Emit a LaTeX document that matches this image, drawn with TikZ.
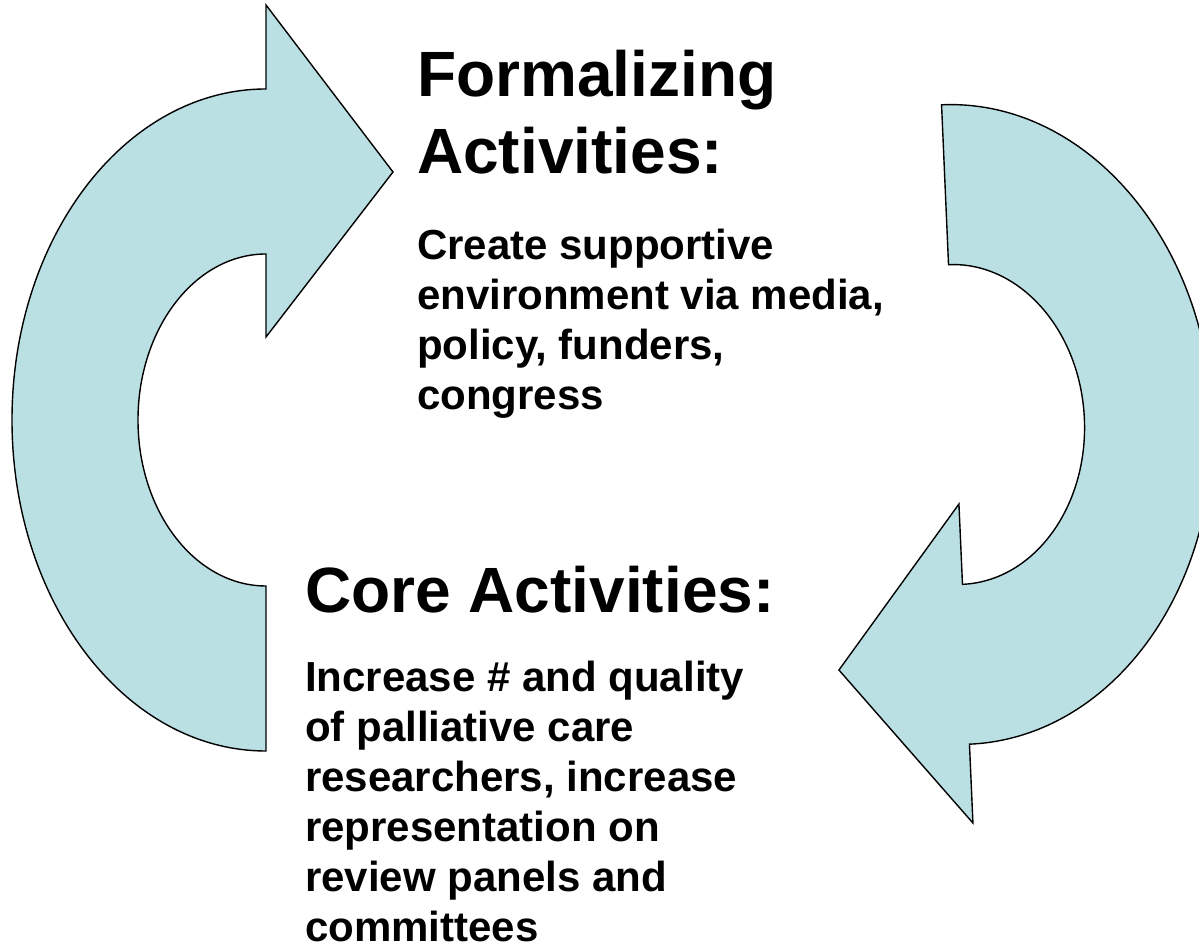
\documentclass[tikz,border=0pt]{standalone}
\usepackage{fontspec}
\setmainfont{Liberation Sans}
\definecolor{arrowblue}{RGB}{187,224,227}
\tikzset{
  cyclearrow/.style={fill=arrowblue, draw=black, line width=1.4pt, line join=miter},
  titletext/.style={anchor=north west, inner sep=0pt, align=left, font=\fontsize{64}{77}\selectfont\bfseries},
  bodytext/.style={anchor=north west, inner sep=0pt, align=left, font=\fontsize{42}{50}\selectfont\bfseries}
}
\begin{document}
\begin{tikzpicture}[x=1pt,y=1pt]
\useasboundingbox (0,0) rectangle (1199,950);
\clip (0,0) rectangle (1199,950);
% left arrow (pointing right at top)
\draw[cyclearrow] (266,861) -- (266,945) -- (393,778) -- (266,613) -- (266,696)
  arc[start angle=90, end angle=270, x radius=128, y radius=166] -- (266,199)
  arc[start angle=270, end angle=90, x radius=254, y radius=331] -- cycle;
% right arrow (pointing left at bottom)
\coordinate (hT) at (959,446);
\coordinate (hTip) at (839,280);
\coordinate (hB) at (973,127);
\begin{scope}[rotate around={2.5:(955.5,525.5)}]
\draw[cyclearrow] (955.5,845.5)
  arc[start angle=90, end angle=-90, x radius=257, y radius=320] -- (hB) -- (hTip) -- (hT) -- (955.5,365.5)
  arc[start angle=-90, end angle=90, x radius=129, y radius=160] -- cycle;
\end{scope}
% texts
\node[titletext] (ftitle) at (417,900) {Formalizing\\Activities:};
\node[bodytext] (fbody) at (417,721) {Create supportive\\environment via media,\\policy, funders,\\congress};
\node[titletext] (ctitle) at (305,384) {Core Activities:};
\node[bodytext] (cbody) at (305,289) {Increase \# and quality\\of palliative care\\researchers, increase\\representation on\\review panels and\\committees};
\end{tikzpicture}
\end{document}
